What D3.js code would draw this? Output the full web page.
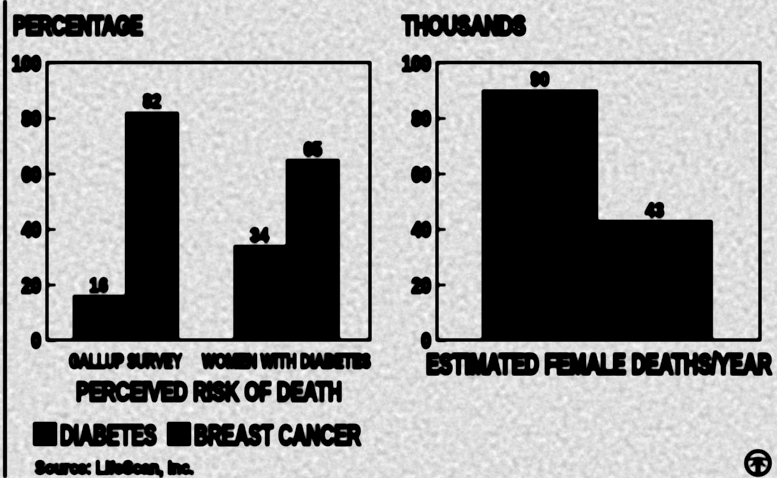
<!DOCTYPE html>
<html>
<head>
<meta charset="utf-8">
<script src="https://cdnjs.cloudflare.com/ajax/libs/d3/7.8.5/d3.min.js"></script>
<style>
  html, body { margin: 0; padding: 0; background: #d9d9d9; overflow: hidden; }
  text { font-family: "Liberation Sans Narrow", "Liberation Sans", sans-serif; font-weight: bold; fill: #000; stroke: #000; }
</style>
</head>
<body>
<div id="chart"></div>
<script>
var svgWidth = 777;
var svgHeight = 478;

// data
var riskGroups = ["GALLUP SURVEY", "WOMEN WITH DIABETES"];
var riskDiabetes = [16, 34];
var riskBreastCancer = [82, 65];
var deathSeries = ["DIABETES", "BREAST CANCER"];
var deathValues = [90, 43];
var tickValues = [0, 20, 40, 60, 80, 100];

var plotTop = 62.5;
var plotBottom = 340;
var plotWidth = 323;

var svg = d3.select("#chart")
  .append("svg")
  .attr("width", svgWidth)
  .attr("height", svgHeight)
  .style("display", "block");

var defs = svg.append("defs");

// newsprint grain
var paper = defs.append("filter").attr("id", "paper")
  .attr("x", 0).attr("y", 0).attr("width", "100%").attr("height", "100%")
  .attr("color-interpolation-filters", "sRGB");
paper.append("feTurbulence")
  .attr("type", "fractalNoise")
  .attr("baseFrequency", 0.16)
  .attr("numOctaves", 4)
  .attr("seed", 4);
paper.append("feColorMatrix")
  .attr("values", "0.14 0.14 0.14 0 0.66  0.14 0.14 0.14 0 0.66  0.14 0.14 0.14 0 0.66  0 0 0 0 1");

// ink bleed on everything printed: blur, then pull the edge back to solid black
var bleed = defs.append("filter").attr("id", "ink")
  .attr("x", 0).attr("y", 0).attr("width", "100%").attr("height", "100%")
  .attr("filterUnits", "userSpaceOnUse");
bleed.append("feGaussianBlur").attr("stdDeviation", 0.9);
bleed.append("feComponentTransfer")
  .append("feFuncA")
  .attr("type", "linear")
  .attr("slope", 2.4)
  .attr("intercept", -0.5);

svg.append("rect")
  .attr("width", svgWidth)
  .attr("height", svgHeight)
  .attr("filter", "url(#paper)");

var ink = svg.append("g").attr("filter", "url(#ink)");

// column rule on the left edge
ink.append("line")
  .attr("x1", 5).attr("x2", 5)
  .attr("y1", 0).attr("y2", svgHeight)
  .attr("stroke", "#000")
  .attr("stroke-width", 3.5);

var yScale = d3.scaleLinear()
  .domain([0, 100])
  .range([plotBottom, plotTop]);

// squeeze a text horizontally so it fills the measured width
function drawLabel(txt, x, y, size, width, heavy) {
  var label = ink.append("text")
    .attr("font-size", size)
    .attr("stroke-width", heavy)
    .text(txt);
  var sx = width / label.node().getComputedTextLength();
  label.attr("transform", `translate(${x}, ${y}) scale(${sx}, 1)`);
  return label;
}

function drawFrame(left) {
  var g = ink.append("g").attr("transform", `translate(${left}, 0)`);

  g.append("rect")
    .attr("x", 0)
    .attr("y", plotTop)
    .attr("width", plotWidth)
    .attr("height", plotBottom - plotTop)
    .attr("fill", "none")
    .attr("stroke", "#000")
    .attr("stroke-width", 3);

  var axis = d3.axisLeft(yScale)
    .tickValues(tickValues)
    .tickSize(-9)
    .tickPadding(5);

  var axisGroup = g.append("g").call(axis);
  axisGroup.select(".domain").remove();
  axisGroup.selectAll("line").attr("stroke", "#000").attr("stroke-width", 2.5);
  axisGroup.selectAll("text")
    .attr("font-size", 22)
    .attr("font-family", null)
    .attr("stroke-width", 2.6)
    .attr("dy", "0.36em")
    .attr("x", -6 / 0.8)
    .attr("transform", "scale(0.8, 1)");

  return g;
}

function barRect(g, x, w, value) {
  g.append("rect")
    .attr("x", x)
    .attr("y", yScale(value))
    .attr("width", w)
    .attr("height", plotBottom - yScale(value))
    .attr("fill", "#000")
    .attr("stroke", "#000")
    .attr("stroke-width", 1.5);
}

function barValue(g, x, value) {
  g.append("text")
    .attr("text-anchor", "middle")
    .attr("transform", `translate(${x}, ${yScale(value) - 4}) scale(0.8, 1)`)
    .attr("font-size", 21)
    .attr("stroke-width", 2.2)
    .text(value);
}

// left chart: perceived risk
var leftChart = drawFrame(47);

var x0 = d3.scaleBand()
  .domain(riskGroups)
  .range([26.5, 292])
  .paddingInner(0.348);

var x1 = d3.scaleBand()
  .domain(["diabetes", "breast"])
  .range([0, x0.bandwidth()]);

riskGroups.forEach(function (group, i) {
  barRect(leftChart, x0(group) + x1("diabetes"), x1.bandwidth(), riskDiabetes[i]);
  barRect(leftChart, x0(group) + x1("breast"), x1.bandwidth(), riskBreastCancer[i]);
  barValue(leftChart, x0(group) + x1("diabetes") + x1.bandwidth() / 2 - 1, riskDiabetes[i]);
  barValue(leftChart, x0(group) + x1("breast") + x1.bandwidth() / 2, riskBreastCancer[i]);
});

// right chart: deaths per year
var rightChart = drawFrame(437);

var xDeaths = d3.scaleBand()
  .domain(deathSeries)
  .range([45.5, 275]);

deathSeries.forEach(function (name, i) {
  barRect(rightChart, xDeaths(name), xDeaths.bandwidth(), deathValues[i]);
  barValue(rightChart, xDeaths(name) + xDeaths.bandwidth() / 2, deathValues[i]);
});

// headings and captions
drawLabel("PERCENTAGE", 13, 35, 28, 130, 3);
drawLabel("THOUSANDS", 402, 35, 28, 124, 3);
drawLabel(riskGroups[0], 69, 368, 21, 113, 2.4);
drawLabel(riskGroups[1], 202, 368, 21, 169, 2.4);
drawLabel("PERCEIVED RISK OF DEATH", 76, 401, 28, 266, 2.6);
drawLabel("ESTIMATED FEMALE DEATHS/YEAR", 426, 374, 29, 346, 2.8);
drawLabel("Source: LifeScan, Inc.", 35, 474, 18, 159, 2);

// legend
[33, 167].forEach(function (x) {
  ink.append("rect")
    .attr("x", x)
    .attr("y", 422)
    .attr("width", 24)
    .attr("height", 24)
    .attr("fill", "#000");
});
drawLabel("DIABETES", 60, 445, 30, 97, 2.6);
drawLabel("BREAST CANCER", 194, 445, 30, 167, 2.6);

// NAPS logo, bottom right
var logo = ink.append("g")
  .attr("transform", "translate(758, 463)")
  .attr("fill", "none")
  .attr("stroke", "#000");
logo.append("circle").attr("r", 12).attr("stroke-width", 3.5);
logo.append("path")
  .attr("stroke-width", 2)
  .attr("d", "M-9,-3 Q0,-7 9,-3 M-1.5,-4 V10 M1.5,-4 V10 M-8,3 Q-4,3 -3,-3 M8,3 Q4,3 3,-3");
</script>
</body>
</html>
